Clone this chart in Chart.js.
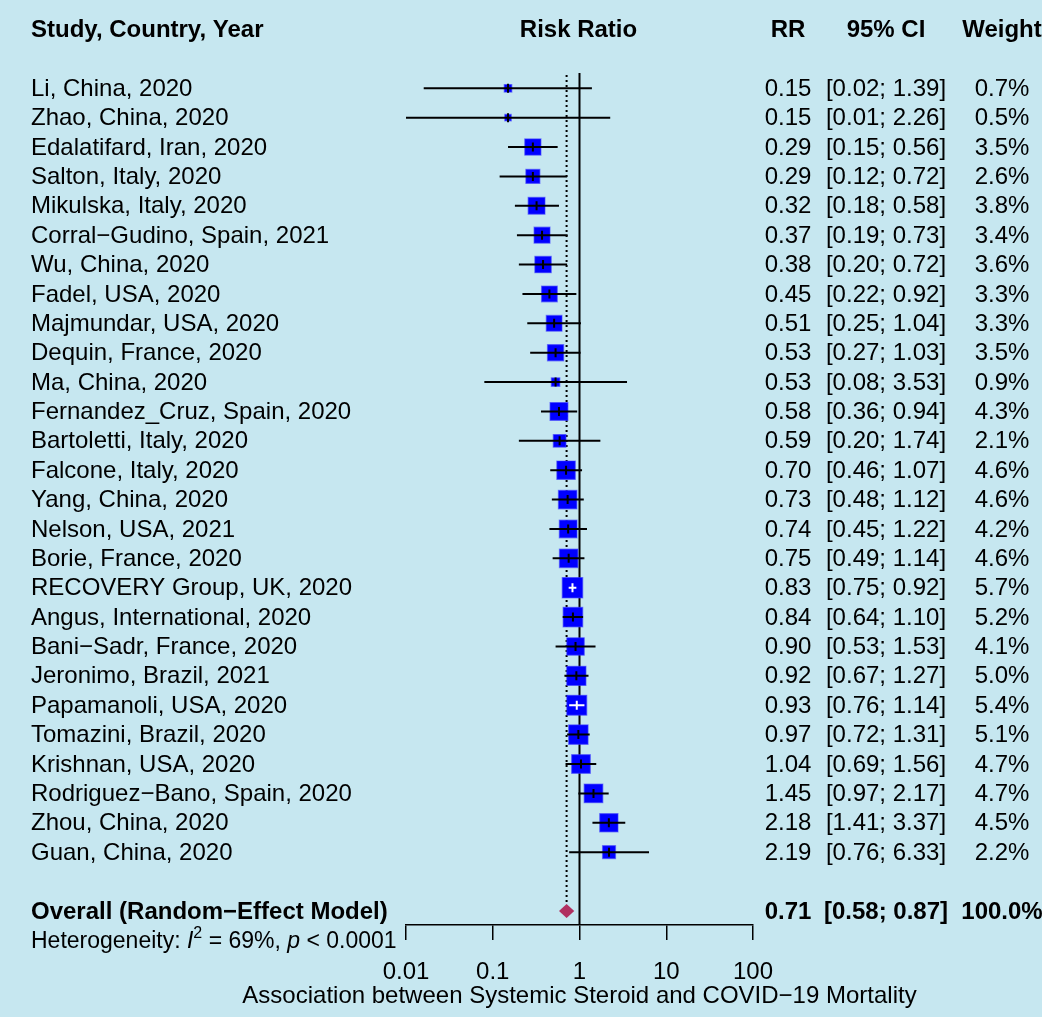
<!DOCTYPE html>
<html>
<head>
<meta charset="utf-8">
<script src="https://cdn.jsdelivr.net/npm/chart.js@4/dist/chart.umd.min.js"></script>
<style>
  html, body { margin: 0; padding: 0; background: #c6e7f0; }
  #wrap { width: 1042px; height: 1017px; }
</style>
</head>
<body>
<div id="wrap"><canvas id="forest" width="1042" height="1017"></canvas></div>
<script>
// ===========================
// DATA
// ===========================
const studies = [
  'Li, China, 2020', 'Zhao, China, 2020', 'Edalatifard, Iran, 2020', 'Salton, Italy, 2020',
  'Mikulska, Italy, 2020', 'Corral\u2212Gudino, Spain, 2021', 'Wu, China, 2020', 'Fadel, USA, 2020',
  'Majmundar, USA, 2020', 'Dequin, France, 2020', 'Ma, China, 2020', 'Fernandez_Cruz, Spain, 2020',
  'Bartoletti, Italy, 2020', 'Falcone, Italy, 2020', 'Yang, China, 2020', 'Nelson, USA, 2021',
  'Borie, France, 2020', 'RECOVERY Group, UK, 2020', 'Angus, International, 2020', 'Bani\u2212Sadr, France, 2020',
  'Jeronimo, Brazil, 2021', 'Papamanoli, USA, 2020', 'Tomazini, Brazil, 2020', 'Krishnan, USA, 2020',
  'Rodriguez\u2212Bano, Spain, 2020', 'Zhou, China, 2020', 'Guan, China, 2020'
];
const rr    = [0.15, 0.15, 0.29, 0.29, 0.32, 0.37, 0.38, 0.45, 0.51, 0.53, 0.53, 0.58, 0.59, 0.70,
               0.73, 0.74, 0.75, 0.83, 0.84, 0.90, 0.92, 0.93, 0.97, 1.04, 1.45, 2.18, 2.19];
const lower = [0.016, 0.01, 0.15, 0.12, 0.18, 0.19, 0.20, 0.22, 0.25, 0.27, 0.08, 0.36, 0.20, 0.46,
               0.48, 0.45, 0.49, 0.75, 0.64, 0.53, 0.67, 0.76, 0.72, 0.69, 0.97, 1.41, 0.76];
const upper = [1.39, 2.26, 0.56, 0.72, 0.58, 0.73, 0.72, 0.92, 1.04, 1.03, 3.53, 0.94, 1.74, 1.07,
               1.12, 1.22, 1.14, 0.92, 1.10, 1.53, 1.27, 1.14, 1.31, 1.56, 2.17, 3.37, 6.33];
const weights = [0.7, 0.5, 3.5, 2.6, 3.8, 3.4, 3.6, 3.3, 3.3, 3.5, 0.9, 4.3, 2.1, 4.6,
                 4.6, 4.2, 4.6, 5.7, 5.2, 4.1, 5.0, 5.4, 5.1, 4.7, 4.7, 4.5, 2.2];

const overallLabel = 'Overall (Random\u2212Effect Model)';
const overall = { rr: 0.71, lower: 0.58, upper: 0.87, weight: 100.0 };
const heterogeneity = { i2: '69%', p: '0.0001' };

const headers = ['Study, Country, Year', 'Risk Ratio', 'RR', '95% CI', 'Weight'];
const xTicks = [0.01, 0.1, 1, 10, 100];
const xTickLabels = ['0.01', '0.1', '1', '10', '100'];
const xTitle = 'Association between Systemic Steroid and COVID\u221219 Mortality';

// ===========================
// STYLE
// ===========================
const BG = '#c6e7f0';
const FONT = '"Liberation Sans", Arial, Helvetica, sans-serif';
const COL_RR = 788, COL_CI = 886, COL_W = 1002, COL_LABEL = 31;
const TEXT_DY = 1;
const overallRow = studies.length + 1;

Chart.defaults.font.family = FONT;
Chart.defaults.color = '#000';

// box side grows with sqrt(weight)
const boxSide = w => 0.6 + 8.33 * Math.sqrt(w);

const fmtCI = (lo, hi) => '[' + lo.toFixed(2) + '; ' + hi.toFixed(2) + ']';

const forestPlugin = {
  id: 'forest',
  beforeDraw(chart) {
    const { ctx } = chart;
    ctx.save();
    ctx.fillStyle = BG;
    ctx.fillRect(0, 0, chart.width, chart.height);
    ctx.restore();
  },
  beforeDatasetsDraw(chart) {
    const { ctx, chartArea, scales: { x, y } } = chart;
    ctx.save();
    // line of no effect
    const x1 = x.getPixelForValue(1);
    ctx.strokeStyle = '#000';
    ctx.lineWidth = 2;
    ctx.beginPath();
    ctx.moveTo(x1, chartArea.top);
    ctx.lineTo(x1, chartArea.bottom);
    ctx.stroke();
    // pooled estimate (dotted)
    const xo = x.getPixelForValue(overall.rr);
    ctx.setLineDash([2, 3]);
    ctx.beginPath();
    ctx.moveTo(xo, y.getPixelForValue(-0.45));
    ctx.lineTo(xo, y.getPixelForValue(overallRow) - 9);
    ctx.stroke();
    ctx.restore();
  },
  afterDatasetsDraw(chart) {
    const { ctx, scales: { x, y } } = chart;
    ctx.save();
    ctx.lineWidth = 2;
    studies.forEach((s, i) => {
      const cy = y.getPixelForValue(i);
      const cx = x.getPixelForValue(rr[i]);
      const xl = x.getPixelForValue(lower[i]);
      const xh = x.getPixelForValue(upper[i]);
      const half = (boxSide(weights[i]) + 1.2) / 2;
      const inside = xl > cx - half + 1 && xh < cx + half - 1;
      ctx.strokeStyle = inside ? '#fff' : '#000';
      ctx.beginPath();
      ctx.moveTo(xl, cy);
      ctx.lineTo(xh, cy);
      ctx.moveTo(cx, cy - 4.5);
      ctx.lineTo(cx, cy + 4.5);
      ctx.stroke();
    });
    // diamond
    const oy = y.getPixelForValue(overallRow);
    ctx.fillStyle = '#b03060';
    ctx.beginPath();
    ctx.moveTo(x.getPixelForValue(overall.lower), oy);
    ctx.lineTo(x.getPixelForValue(overall.rr), oy - 7);
    ctx.lineTo(x.getPixelForValue(overall.upper), oy);
    ctx.lineTo(x.getPixelForValue(overall.rr), oy + 7);
    ctx.closePath();
    ctx.fill();
    ctx.restore();
  },
  afterDraw(chart) {
    const { ctx, scales: { x, y } } = chart;
    ctx.save();
    ctx.fillStyle = '#000';
    ctx.textBaseline = 'middle';

    // headers
    const hy = y.getPixelForValue(-2) + TEXT_DY;
    ctx.font = 'bold 24px ' + FONT;
    ctx.textAlign = 'left';
    ctx.fillText(headers[0], COL_LABEL, hy);
    ctx.textAlign = 'center';
    ctx.fillText(headers[1], x.getPixelForValue(1) - 1, hy);
    ctx.fillText(headers[2], COL_RR, hy);
    ctx.fillText(headers[3], COL_CI, hy);
    ctx.fillText(headers[4], COL_W, hy);

    // study rows
    ctx.font = '24px ' + FONT;
    studies.forEach((s, i) => {
      const cy = y.getPixelForValue(i) + TEXT_DY;
      ctx.textAlign = 'left';
      ctx.fillText(s, COL_LABEL, cy);
      ctx.textAlign = 'center';
      ctx.fillText(rr[i].toFixed(2), COL_RR, cy);
      ctx.fillText(fmtCI(lower[i], upper[i]), COL_CI, cy);
      ctx.fillText(weights[i].toFixed(1) + '%', COL_W, cy);
    });

    // overall row
    const oy = y.getPixelForValue(overallRow) + TEXT_DY;
    ctx.font = 'bold 24px ' + FONT;
    ctx.textAlign = 'left';
    ctx.fillText(overallLabel, COL_LABEL, oy);
    ctx.textAlign = 'center';
    ctx.fillText(overall.rr.toFixed(2), COL_RR, oy);
    ctx.fillText(fmtCI(overall.lower, overall.upper), COL_CI, oy);
    ctx.fillText(overall.weight.toFixed(1) + '%', COL_W, oy);

    // heterogeneity line, with italic I and p and a superscript 2
    const ty = y.getPixelForValue(overallRow + 1) + TEXT_DY;
    ctx.textAlign = 'left';
    let tx = COL_LABEL;
    const part = (txt, font, dy) => {
      ctx.font = font;
      ctx.fillText(txt, tx, ty + (dy || 0));
      tx += ctx.measureText(txt).width;
    };
    part('Heterogeneity: ', '23px ' + FONT);
    part('I', 'italic 23px ' + FONT);
    part('2', '16px ' + FONT, -8);
    part(' = ' + heterogeneity.i2 + ', ', '23px ' + FONT);
    part('p', 'italic 23px ' + FONT);
    part(' < ' + heterogeneity.p, '23px ' + FONT);

    // x axis title, centred under the scale
    ctx.font = '24px ' + FONT;
    ctx.textAlign = 'center';
    ctx.fillText(xTitle, x.getPixelForValue(1), 996);
    ctx.restore();
  }
};

const ctx = document.getElementById('forest').getContext('2d');

new Chart(ctx, {
  type: 'scatter',
  data: {
    datasets: [{
      label: 'Studies',
      data: rr.map((v, i) => ({ x: v, y: i })),
      pointStyle: 'rect',
      pointRadius: c => boxSide(weights[c.dataIndex]) / Math.SQRT2,
      backgroundColor: '#0000ff',
      borderColor: 'rgba(60,60,255,0.55)',
      borderWidth: 1.2
    }]
  },
  options: {
    responsive: false,
    animation: false,
    events: [],
    layout: { padding: { left: 406, right: 289, top: 73, bottom: 0 } },
    plugins: { legend: { display: false }, tooltip: { enabled: false } },
    scales: {
      x: {
        type: 'logarithmic',
        min: 0.01,
        max: 100,
        position: 'bottom',
        afterBuildTicks: s => { s.ticks = xTicks.map(v => ({ value: v })); },
        afterFit: s => { s.height = 92; },
        grid: { drawOnChartArea: false, drawTicks: true, tickLength: 15, color: '#000', lineWidth: 1.5 },
        border: { display: true, color: '#000', width: 1.5 },
        ticks: {
          color: '#000',
          font: { size: 24 },
          padding: 18,
          maxRotation: 0,
          autoSkip: false,
          callback: (v, i) => xTickLabels[i]
        },
        title: { display: false }
      },
      y: {
        type: 'linear',
        reverse: true,
        min: -0.52,
        max: overallRow + 0.48,
        display: false
      }
    }
  },
  plugins: [forestPlugin]
});
</script>
</body>
</html>
